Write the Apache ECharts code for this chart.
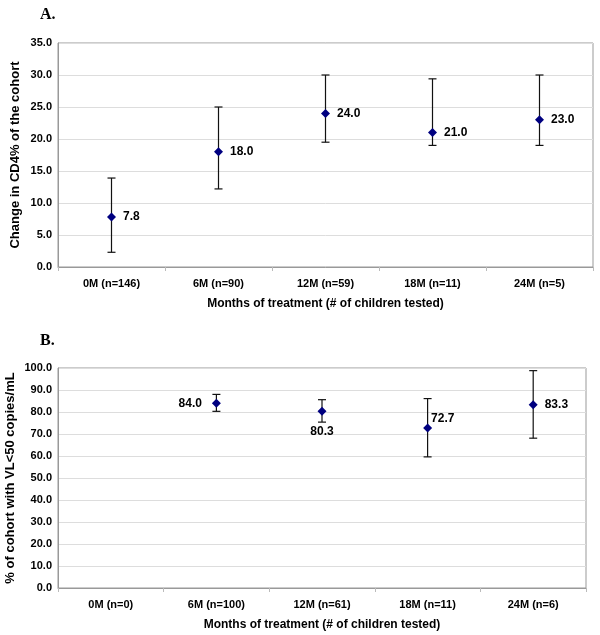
<!DOCTYPE html>
<html>
<head>
<meta charset="utf-8">
<script src="https://cdn.jsdelivr.net/npm/echarts@6/dist/echarts.min.js"></script>
<style>
html, body { margin: 0; padding: 0; background: #fff; }
#main { width: 600px; height: 635px; }
</style>
</head>
<body>
<div id="main"></div>
<script>
// panel A: change in CD4%
var catsA = ['0M (n=146)', '6M (n=90)', '12M (n=59)', '18M (n=11)', '24M (n=5)'];
var meanA = [7.8, 18.0, 24.0, 21.0, 23.0];
var lowA = [2.3, 12.2, 19.5, 19.0, 19.0];
var highA = [13.9, 25.0, 30.0, 29.4, 30.0];

// panel B: % with VL<50
var catsB = ['0M (n=0)', '6M (n=100)', '12M (n=61)', '18M (n=11)', '24M (n=6)'];
var meanB = [null, 84.0, 80.3, 72.7, 83.3];
var lowB = [null, 80.3, 75.4, 59.6, 68.1];
var highB = [null, 88.0, 85.6, 86.1, 98.8];

var font = 'Liberation Sans, Arial, sans-serif';

function errData(low, high) {
	var out = [];
	for (var i = 0; i < low.length; i++) {
		if (low[i] === null) continue;
		out.push([i, low[i], high[i]]);
	}
	return out;
}

function errSeries(idx, low, high) {
	return {
		type: 'custom',
		xAxisIndex: idx,
		yAxisIndex: idx,
		data: errData(low, high),
		z: 2,
		renderItem: function (params, api) {
			var lo = api.coord([api.value(0), api.value(1)]);
			var hi = api.coord([api.value(0), api.value(2)]);
			var w = 4;
			var st = { stroke: '#111', lineWidth: 1.2 };
			return {
				type: 'group',
				children: [
					{ type: 'line', shape: { x1: hi[0], y1: hi[1], x2: lo[0], y2: lo[1] }, style: st },
					{ type: 'line', shape: { x1: hi[0] - w, y1: hi[1], x2: hi[0] + w, y2: hi[1] }, style: st },
					{ type: 'line', shape: { x1: lo[0] - w, y1: lo[1], x2: lo[0] + w, y2: lo[1] }, style: st }
				]
			};
		}
	};
}

function pointSeries(idx, means, positions) {
	var data = [];
	for (var i = 0; i < means.length; i++) {
		if (means[i] === null) continue;
		var item = { value: [i, means[i]] };
		if (positions) item.label = positions[i];
		data.push(item);
	}
	return {
		type: 'scatter',
		xAxisIndex: idx,
		yAxisIndex: idx,
		symbol: 'diamond',
		symbolSize: 9,
		itemStyle: { color: '#000080', opacity: 1 },
		z: 3,
		label: {
			show: true,
			position: 'right',
			distance: 7,
			color: '#000',
			fontFamily: font,
			fontWeight: 'bold',
			fontSize: 12,
			formatter: function (p) { return p.value[1].toFixed(1); }
		},
		data: data
	};
}

// label placement in panel B
var labelPosB = [
	null,
	{ position: 'left', distance: 10 },
	{ position: 'bottom', distance: 10 },
	{ position: 'right', offset: [-8, -9] },
	{ position: 'right' }
];

function xAxis(idx, cats) {
	return {
		type: 'category',
		gridIndex: idx,
		data: cats,
		boundaryGap: true,
		name: 'Months of treatment (# of children tested)',
		nameLocation: 'middle',
		nameGap: 31,
		nameMoveOverlap: false,
		nameTextStyle: { color: '#000', fontFamily: font, fontWeight: 'bold', fontSize: 12 },
		axisLine: { lineStyle: { color: '#999' } },
		axisTick: { show: true, length: 4, lineStyle: { color: '#bbb' } },
		axisLabel: { color: '#000', fontFamily: font, fontWeight: 'bold', fontSize: 11, margin: 11 }
	};
}

function yAxis(idx, max, interval, name, gap) {
	return {
		type: 'value',
		gridIndex: idx,
		min: 0,
		max: max,
		interval: interval,
		name: name,
		nameLocation: 'middle',
		nameGap: gap,
		nameMoveOverlap: false,
		nameTextStyle: { color: '#000', fontFamily: font, fontWeight: 'bold', fontSize: 13 },
		axisLine: { show: true, lineStyle: { color: '#999' } },
		axisTick: { show: false },
		splitLine: { lineStyle: { color: '#ddd' } },
		axisLabel: {
			color: '#000', fontFamily: font, fontWeight: 'bold', fontSize: 11, margin: 6,
			formatter: function (v) { return v.toFixed(1); }
		}
	};
}

var myChart = echarts.init(document.getElementById('main'));
var option = {
	animation: false,
	backgroundColor: '#fff',
	title: [
		{ text: 'A.', left: 35, top: 2, textStyle: { fontFamily: 'Liberation Serif, serif', fontWeight: 'bold', fontSize: 16, color: '#000' } },
		{ text: 'B.', left: 35, top: 328, textStyle: { fontFamily: 'Liberation Serif, serif', fontWeight: 'bold', fontSize: 16, color: '#000' } }
	],
	grid: [
		{ left: 58, top: 43, width: 535, height: 224, outerBoundsMode: 'none', containLabel: false, show: true, borderColor: '#999', borderWidth: 1 },
		{ left: 58, top: 368, width: 528, height: 220, outerBoundsMode: 'none', containLabel: false, show: true, borderColor: '#999', borderWidth: 1 }
	],
	xAxis: [xAxis(0, catsA), xAxis(1, catsB)],
	yAxis: [
		yAxis(0, 35, 5, 'Change in CD4% of the cohort', 36),
		yAxis(1, 100, 10, '% of cohort with VL<50 copies/mL', 41)
	],
	series: [
		errSeries(0, lowA, highA),
		pointSeries(0, meanA, null),
		errSeries(1, lowB, highB),
		pointSeries(1, meanB, labelPosB)
	]
};
myChart.setOption(option);
</script>
</body>
</html>
